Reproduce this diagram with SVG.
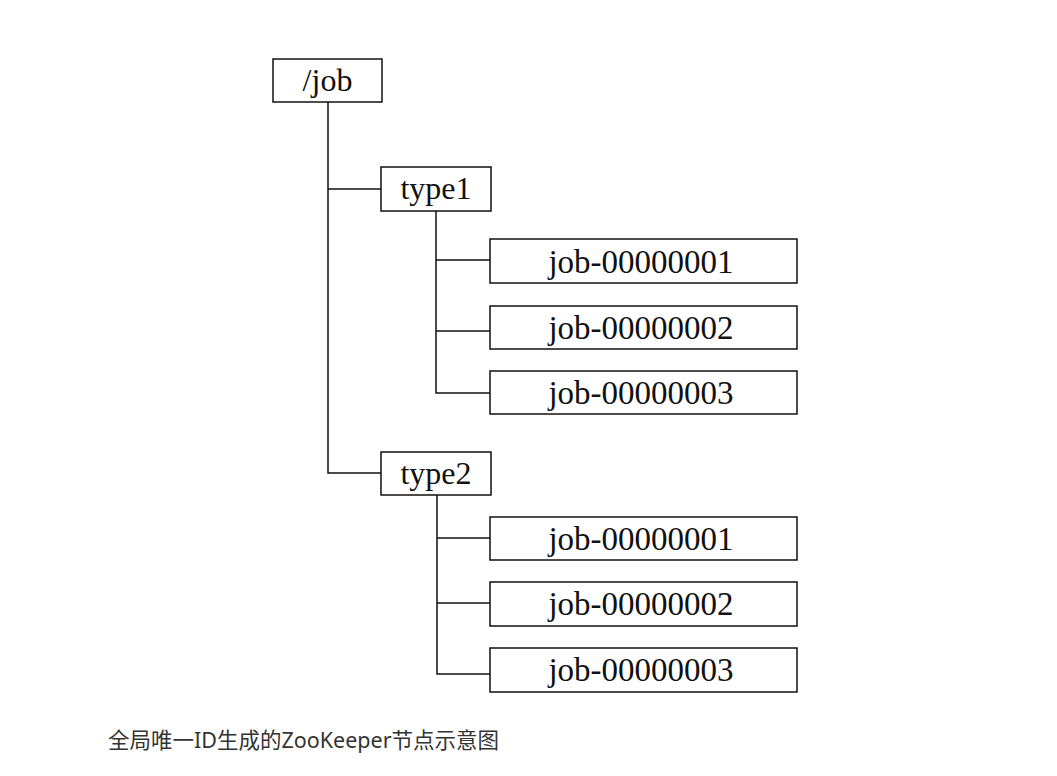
<svg xmlns="http://www.w3.org/2000/svg" width="1057" height="776" viewBox="0 0 1057 776">
<style>
.box{fill:#fff;stroke:#111;stroke-width:1.5}
.t{font-family:"Liberation Serif","Times New Roman",serif;font-size:32px;fill:#111;text-anchor:middle}
.j{font-size:33px}
.ln{stroke:#111;stroke-width:1.5;fill:none}
.cap{font-family:"Noto Sans","Noto Sans CJK SC",sans-serif;font-size:21.5px;fill:#333}
</style>
<rect width="1057" height="776" fill="#fff"/>
<g id="connectors">
<path class="ln" d="M328,102 V473 H381"/>
<path class="ln" d="M328,189 H381"/>
<path class="ln" d="M436,211 V393 H490"/>
<path class="ln" d="M436,260 H490"/>
<path class="ln" d="M436,331 H490"/>
<path class="ln" d="M437,495 V674 H490"/>
<path class="ln" d="M437,538 H490"/>
<path class="ln" d="M437,603 H490"/>
</g>
<g id="root"><rect class="box" x="273" y="59" width="109" height="43"/><text class="t" x="327.5" y="91">/job</text></g>
<g id="type1"><rect class="box" x="381" y="167" width="110" height="44"/><text class="t" x="436" y="199">type1</text></g>
<g id="t1job1"><rect class="box" x="490" y="239" width="307" height="44"/><text class="t j" x="641" y="273">job-00000001</text></g>
<g id="t1job2"><rect class="box" x="490" y="306" width="307" height="43"/><text class="t j" x="641" y="339">job-00000002</text></g>
<g id="t1job3"><rect class="box" x="490" y="371" width="307" height="43"/><text class="t j" x="641" y="404">job-00000003</text></g>
<g id="type2"><rect class="box" x="381" y="452" width="110" height="43"/><text class="t" x="436" y="484">type2</text></g>
<g id="t2job1"><rect class="box" x="490" y="517" width="307" height="43"/><text class="t j" x="641" y="550">job-00000001</text></g>
<g id="t2job2"><rect class="box" x="490" y="582" width="307" height="44"/><text class="t j" x="641" y="615">job-00000002</text></g>
<g id="t2job3"><rect class="box" x="490" y="648" width="307" height="44"/><text class="t j" x="641" y="681">job-00000003</text></g>
<text class="cap" x="108" y="748">全局唯一ID生成的ZooKeeper节点示意图</text>
</svg>
